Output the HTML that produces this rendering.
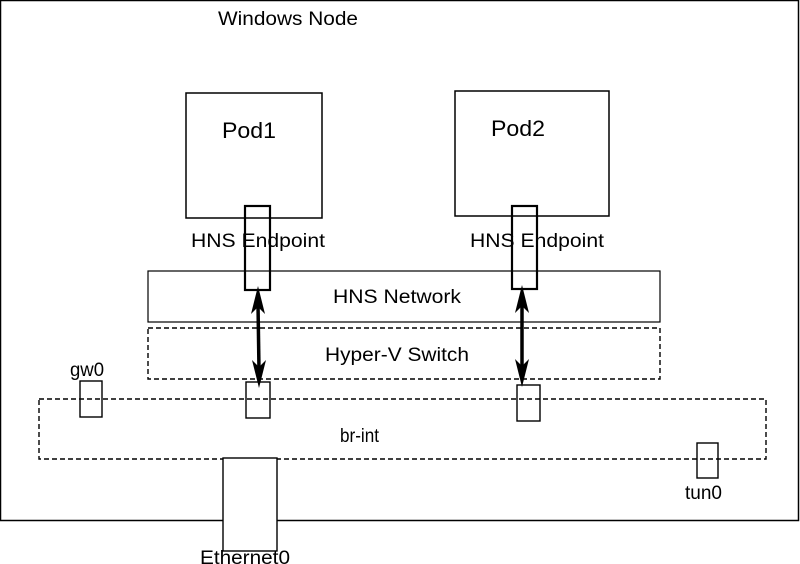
<!DOCTYPE html>
<html><head><meta charset="utf-8"><style>
html,body{margin:0;padding:0;background:#fff;width:800px;height:564px;overflow:hidden}
svg{display:block}
text{font-family:"Liberation Sans",sans-serif;fill:#000}
</style></head><body>
<svg width="800" height="564" viewBox="0 0 800 564">
<rect x="0.5" y="0.5" width="798" height="520" fill="none" stroke="#000" stroke-width="1.5"/>
<text x="218" y="25" font-size="19" textLength="140" lengthAdjust="spacingAndGlyphs">Windows Node</text>
<rect x="186" y="93" width="136" height="125" fill="none" stroke="#000" stroke-width="1.5"/>
<text x="222" y="138" font-size="22" textLength="54" lengthAdjust="spacingAndGlyphs">Pod1</text>
<rect x="455" y="91" width="154" height="125" fill="none" stroke="#000" stroke-width="1.5"/>
<text x="491" y="136" font-size="22" textLength="54" lengthAdjust="spacingAndGlyphs">Pod2</text>
<text x="191" y="247" font-size="19" textLength="134" lengthAdjust="spacingAndGlyphs">HNS Endpoint</text>
<text x="470" y="247" font-size="19" textLength="134" lengthAdjust="spacingAndGlyphs">HNS Endpoint</text>
<rect x="245" y="206" width="25" height="84" fill="none" stroke="#000" stroke-width="2.2"/>
<rect x="512" y="206" width="25" height="83" fill="none" stroke="#000" stroke-width="2.2"/>
<rect x="148" y="271" width="512" height="51" fill="none" stroke="#000" stroke-width="1.2"/>
<text x="333" y="303" font-size="19" textLength="128" lengthAdjust="spacingAndGlyphs">HNS Network</text>
<rect x="148" y="328" width="512" height="51" fill="none" stroke="#000" stroke-width="1.4" stroke-dasharray="5,3"/>
<text x="325" y="361" font-size="19" textLength="144" lengthAdjust="spacingAndGlyphs">Hyper-V Switch</text>
<rect x="39" y="399" width="727" height="60" fill="none" stroke="#000" stroke-width="1.4" stroke-dasharray="5,3"/>
<text x="340" y="442" font-size="19" textLength="39" lengthAdjust="spacingAndGlyphs">br-int</text>
<rect x="80" y="381" width="22" height="36" fill="none" stroke="#000" stroke-width="1.4"/>
<text x="70" y="376" font-size="19" textLength="34" lengthAdjust="spacingAndGlyphs">gw0</text>
<rect x="246" y="382" width="24" height="36" fill="none" stroke="#000" stroke-width="1.4"/>
<rect x="517" y="385" width="23" height="36" fill="none" stroke="#000" stroke-width="1.4"/>
<rect x="697" y="443" width="21" height="35" fill="none" stroke="#000" stroke-width="1.4"/>
<text x="685" y="499" font-size="19" textLength="37" lengthAdjust="spacingAndGlyphs">tun0</text>
<rect x="223" y="458" width="54" height="93" fill="#fff" stroke="#000" stroke-width="1.4"/>
<text x="200" y="564" font-size="19" textLength="90" lengthAdjust="spacingAndGlyphs">Ethernet0</text>
<line x1="258" y1="304" x2="259" y2="370" stroke="#000" stroke-width="3.5"/>
<path d="M258,286 L251,314 L258,307 L265,314 Z" fill="#000"/>
<path d="M259,388 L252,360 L259,367 L266,360 Z" fill="#000"/>
<line x1="522" y1="303" x2="522" y2="369" stroke="#000" stroke-width="3.5"/>
<path d="M522,285 L515,313 L522,306 L529,313 Z" fill="#000"/>
<path d="M522,387 L515,359 L522,366 L529,359 Z" fill="#000"/>
</svg>
</body></html>
